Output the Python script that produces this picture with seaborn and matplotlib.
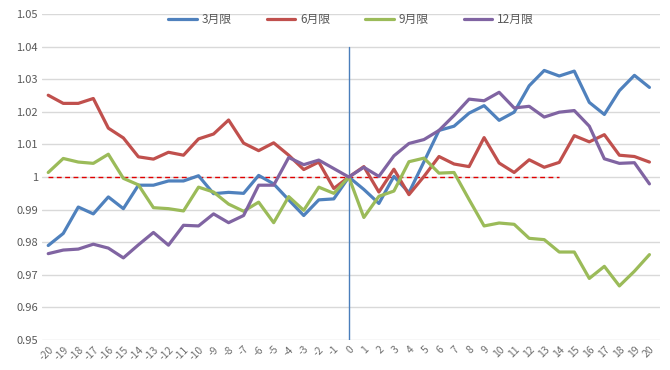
import numpy as np
import pandas as pd
import matplotlib
matplotlib.use("Agg")
import matplotlib.pyplot as plt
import seaborn as sns

days = list(range(-20, 21))

mar = [0.979, 0.9827, 0.9908, 0.9887, 0.9939, 0.9903, 0.9975, 0.9975, 0.9988, 0.9988,
       1.0004, 0.9949, 0.9953, 0.995, 1.0005, 0.9979, 0.993, 0.9882, 0.993, 0.9933,
       1.0, 0.9962, 0.9919, 1.0002, 0.9952, 1.0047, 1.0143, 1.0156, 1.0196, 1.0219,
       1.0174, 1.0199, 1.028, 1.0327, 1.031, 1.0325, 1.0229, 1.0192, 1.0265, 1.0312, 1.0275]
jun = [1.0251, 1.0226, 1.0226, 1.0241, 1.015, 1.012, 1.0062, 1.0055, 1.0076, 1.0067,
       1.0117, 1.0132, 1.0175, 1.0104, 1.0081, 1.0105, 1.0067, 1.0023, 1.0046, 0.9965,
       1.0, 1.0032, 0.9954, 1.0024, 0.9946, 1.0002, 1.0063, 1.004, 1.0032, 1.0121,
       1.0043, 1.0014, 1.0053, 1.003, 1.0045, 1.0127, 1.0108, 1.013, 1.0067, 1.0063, 1.0046]
sep = [1.0014, 1.0057, 1.0046, 1.0042, 1.007, 0.9996, 0.9976, 0.9906, 0.9903, 0.9896,
       0.9969, 0.9954, 0.9917, 0.9895, 0.9923, 0.986, 0.994, 0.9898, 0.9969, 0.995,
       1.0, 0.9876, 0.9941, 0.9957, 1.0047, 1.0058, 1.0012, 1.0014, 0.9931, 0.985,
       0.9859, 0.9855, 0.9812, 0.9808, 0.977, 0.977, 0.9689, 0.9726, 0.9666, 0.9711, 0.9762]
dec = [0.9765, 0.9776, 0.9779, 0.9794, 0.9782, 0.9752, 0.9792, 0.983, 0.9791, 0.9852,
       0.985, 0.9887, 0.986, 0.9882, 0.9975, 0.9975, 1.006, 1.0038, 1.0052, 1.0026,
       1.0, 1.003, 1.0002, 1.0065, 1.0103, 1.0115, 1.0143, 1.0189, 1.0239, 1.0234,
       1.026, 1.0212, 1.0217, 1.0184, 1.0199, 1.0204, 1.0156, 1.0056, 1.0042, 1.0044, 0.9979]

series_names = ["3月限", "6月限", "9月限", "12月限"]
colors = ["#4F81BD", "#C0504D", "#9BBB59", "#8064A2"]
ref_level = 1.0
ref_end = 14
y_ticks = [0.95, 0.96, 0.97, 0.98, 0.99, 1.0, 1.01, 1.02, 1.03, 1.04, 1.05]
y_labels = ["0.95", "0.96", "0.97", "0.98", "0.99", "1", "1.01", "1.02", "1.03", "1.04", "1.05"]

df = pd.DataFrame({"day": days * 4,
                   "value": mar + jun + sep + dec,
                   "series": sum([[n] * len(days) for n in series_names], [])})

sns.set_theme(style="white")
plt.rcParams["font.family"] = ["Noto Sans CJK JP", "DejaVu Sans"]

fig = plt.figure(figsize=(6.7, 3.7), dpi=100)
ax = fig.add_axes([0.063, 0.081, 0.922, 0.881])

for y in y_ticks:
    ax.axhline(y, color="#D9D9D9", lw=1, zorder=0)

ax.plot([days[0], ref_end], [ref_level, ref_level], color="#E00000", lw=1, ls=(0, (3.5, 2.5)), zorder=1)
ax.plot([0, 0], [0.95, 1.04], color="#4A7EBB", lw=1, zorder=1)

sns.lineplot(data=df, x="day", y="value", hue="series", hue_order=series_names,
             palette=colors, lw=2.3, ax=ax, zorder=3)

ax.set_xlim(-20.4, 20.7)
ax.set_ylim(0.95, 1.05)
ax.set_xticks(days)
ax.set_xticklabels([str(d) for d in days], rotation=45, ha="right", rotation_mode="anchor",
                   fontsize=7.5, color="#6E6E6E")
ax.set_yticks(y_ticks)
ax.set_yticklabels(y_labels, fontsize=8, color="#595959")
ax.tick_params(axis="both", length=0, pad=3)
ax.set_xlabel("")
ax.set_ylabel("")
for s in ax.spines.values():
    s.set_visible(False)

ax.legend(loc="upper center", bbox_to_anchor=(0.5, 1.035), ncol=4, frameon=False,
          fontsize=8.5, handlelength=2.4, handletextpad=0.4, columnspacing=3.0,
          labelcolor="#595959")

fig.savefig("out.png", dpi=100)
